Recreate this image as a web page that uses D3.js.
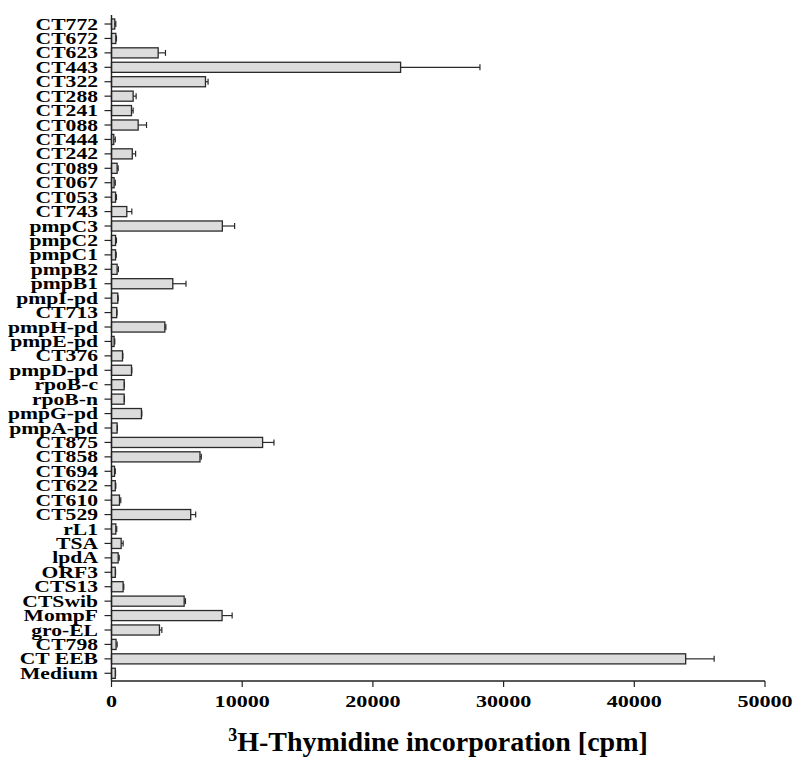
<!DOCTYPE html>
<html>
<head>
<meta charset="utf-8">
<script src="https://cdn.jsdelivr.net/npm/d3@7"></script>
<style>
  html, body { margin: 0; padding: 0; background: #fff; }
  svg { display: block; }
  text { font-family: "Liberation Serif", "Times New Roman", serif; font-weight: bold; fill: #000; }
</style>
</head>
<body>
<script>
const categories = ["CT772","CT672","CT623","CT443","CT322","CT288","CT241","CT088","CT444","CT242",
  "CT089","CT067","CT053","CT743","pmpC3","pmpC2","pmpC1","pmpB2","pmpB1","pmpI-pd",
  "CT713","pmpH-pd","pmpE-pd","CT376","pmpD-pd","rpoB-c","rpoB-n","pmpG-pd","pmpA-pd","CT875",
  "CT858","CT694","CT622","CT610","CT529","rL1","TSA","lpdA","ORF3","CTS13",
  "CTSwib","MompF","gro-EL","CT798","CT EEB","Medium"];
const values = [250,330,3570,22120,7190,1655,1530,2040,175,1590,
  430,200,310,1170,8480,310,310,430,4690,480,
  400,4080,200,840,1530,970,970,2290,430,11560,
  6770,230,290,610,6060,330,740,510,290,890,
  5560,8460,3670,350,43930,290];
const errors = [80,50,560,6070,200,230,125,640,115,255,
  80,90,70,385,940,70,50,100,1010,30,
  20,80,50,30,25,20,20,30,20,870,
  100,60,40,100,380,70,150,80,20,50,
  100,770,180,80,2180,20];
const xTicks = [0,10000,20000,30000,40000,50000];
const xTitleSup = "3";
const xTitleMain = "H-Thymidine incorporation [cpm]";

const W = 800, H = 762;
const x0 = 111.5, x1 = 765, yTop = 15, yBottom = 681;

const svg = d3.select("body").append("svg").attr("width", W).attr("height", H);

const x = d3.scaleLinear().domain([0, 50000]).range([x0, x1]);
const y = d3.scaleBand().domain(categories).range([16.8, 680.5]).paddingInner(0.3).paddingOuter(0.15);

const data = categories.map((c, i) => ({c, v: values[i], e: errors[i]}));

// bars
svg.append("g").selectAll("rect").data(data).join("rect")
  .attr("x", x(0))
  .attr("y", d => y(d.c))
  .attr("width", d => x(d.v) - x(0))
  .attr("height", y.bandwidth())
  .attr("fill", "#dcdcdc")
  .attr("stroke", "#2a2a2a")
  .attr("stroke-width", 1.3);

// error bars
const eg = svg.append("g").attr("stroke", "#2a2a2a").attr("stroke-width", 1.2);
eg.selectAll("line.stem").data(data).join("line").attr("class", "stem")
  .attr("x1", d => x(d.v)).attr("x2", d => x(d.v + d.e))
  .attr("y1", d => y(d.c) + y.bandwidth() / 2).attr("y2", d => y(d.c) + y.bandwidth() / 2);
eg.selectAll("line.cap").data(data).join("line").attr("class", "cap")
  .attr("x1", d => x(d.v + d.e)).attr("x2", d => x(d.v + d.e))
  .attr("y1", d => y(d.c) + y.bandwidth() / 2 - 3).attr("y2", d => y(d.c) + y.bandwidth() / 2 + 3);

// y axis
const ya = svg.append("g");
ya.append("line").attr("x1", x0).attr("x2", x0).attr("y1", yTop).attr("y2", yBottom)
  .attr("stroke", "#222").attr("stroke-width", 1.4);
ya.selectAll("line.tick").data(categories).join("line").attr("class", "tick")
  .attr("x1", x0 - 7).attr("x2", x0)
  .attr("y1", d => y(d) + y.bandwidth() / 2).attr("y2", d => y(d) + y.bandwidth() / 2)
  .attr("stroke", "#222").attr("stroke-width", 1.2);
ya.selectAll("text").data(categories).join("text")
  .attr("transform", d => `translate(98,${y(d) + y.bandwidth() / 2 + 5.6}) scale(1.31,1)`)
  .attr("text-anchor", "end")
  .style("font-size", "16.5px")
  .text(d => d);

// x axis
const xa = svg.append("g");
xa.append("line").attr("x1", x0).attr("x2", x1).attr("y1", yBottom).attr("y2", yBottom)
  .attr("stroke", "#222").attr("stroke-width", 1.4);
xa.selectAll("line.tick").data(xTicks).join("line").attr("class", "tick")
  .attr("x1", d => x(d)).attr("x2", d => x(d))
  .attr("y1", yBottom).attr("y2", yBottom + 6)
  .attr("stroke", "#222").attr("stroke-width", 1.2);
xa.selectAll("text").data(xTicks).join("text")
  .attr("transform", d => `translate(${x(d)},706.5) scale(1.3,1)`)
  .attr("text-anchor", "middle")
  .style("font-size", "17px")
  .text(d => d);

// x title
const t = svg.append("text")
  .attr("x", 438).attr("y", 751)
  .attr("text-anchor", "middle")
  .style("font-size", "28px");
t.append("tspan").attr("dy", -10).style("font-size", "18px").text(xTitleSup);
t.append("tspan").attr("dy", 10).text(xTitleMain);
</script>
</body>
</html>
